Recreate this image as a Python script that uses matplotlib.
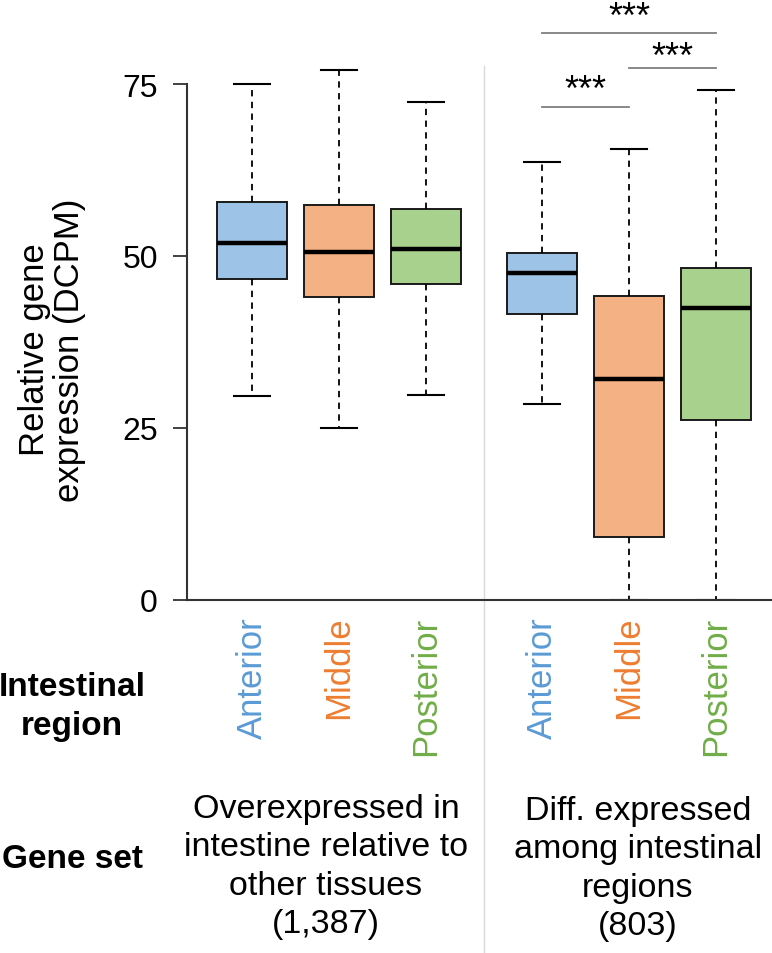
import numpy as np
import matplotlib
matplotlib.use("Agg")
import matplotlib.pyplot as plt
import matplotlib.transforms as mtransforms

plt.rcParams['font.family'] = ['Liberation Sans', 'DejaVu Sans']

# DATA
regions = ["Anterior", "Middle", "Posterior", "Anterior", "Middle", "Posterior"]
positions = [1, 2, 3, 4.333, 5.333, 6.333]
whis_lo = [29.7, 25.0, 29.8, 28.5, 0.0, 0.0]
q1 = [46.7, 44.0, 45.9, 41.6, 9.1, 26.2]
medians = [51.9, 50.6, 51.0, 47.6, 32.1, 42.4]
q3 = [57.9, 57.4, 56.8, 50.4, 44.2, 48.2]
whis_hi = [75.0, 77.0, 72.4, 63.6, 65.5, 74.1]

# significance brackets (from box index, to box index, line height, star baseline)
brk_from = [3, 4, 3]
brk_to = [4, 5, 5]
brk_y = [71.7, 77.3, 82.4]
brk_text_y = [72.7, 77.5, 83.3]

gene_sets = ["Overexpressed in\nintestine relative to\nother tissues\n(1,387)",
             "Diff. expressed\namong intestinal\nregions\n(803)"]

fill_colors = ["#9DC3E6", "#F4B183", "#A9D18E"] * 2
text_colors = ["#5B9BD5", "#ED7D31", "#70AD47"] * 2

# FIGURE
W, H = 772, 954
fig = plt.figure(figsize=(W / 100, H / 100), dpi=100)
px_per_unit = 6.88
ax = fig.add_axes([187 / W, (H - 601) / H, 1 - 187 / W, 601 / H])
ax.set_ylim(0, 601 / px_per_unit)
ax.set_xlim(1 + (187 - 252) / 87, 1 + (772 - 252) / 87)

stats = []
for i in range(len(regions)):
    stats.append(dict(med=medians[i], q1=q1[i], q3=q3[i],
                      whislo=whis_lo[i], whishi=whis_hi[i], fliers=[]))

bp = ax.bxp(stats, positions=positions, widths=0.805, capwidths=0.41,
            patch_artist=True, showfliers=False,
            boxprops=dict(edgecolor="#1a1a1a", linewidth=1.4),
            medianprops=dict(color="black", linewidth=3.2),
            whiskerprops=dict(color="black", linewidth=1.3, linestyle=(0, (3.5, 3))),
            capprops=dict(color="black", linewidth=1.5))
for patch, c in zip(bp['boxes'], fill_colors):
    patch.set_facecolor(c)

# axes styling
for s in ["top", "right"]:
    ax.spines[s].set_visible(False)
ax.spines["left"].set_bounds(0, 75)
ax.spines["left"].set_linewidth(1.5)
ax.spines["left"].set_color("#333333")
ax.spines["bottom"].set_linewidth(1.5)
ax.spines["bottom"].set_color("#333333")
ax.set_yticks([0, 25, 50, 75])
ax.tick_params(axis="y", labelsize=23, length=10, width=1.3, pad=11, color="#333333")
ax.set_xticks([])

# category labels under the boxes
for x, name, c in zip(positions, regions, text_colors):
    ax.text(x, -2.3, name, rotation=90, ha="center", va="top",
            fontsize=25, color=c, clip_on=False)

# significance brackets
for a, b, y, ty in zip(brk_from, brk_to, brk_y, brk_text_y):
    ax.plot([positions[a], positions[b]], [y, y], color="#7f7f7f", lw=1.3, clip_on=False)
    ax.text((positions[a] + positions[b]) / 2, ty, "***", ha="center", va="baseline",
            fontsize=26, clip_on=False)

# separator between the two gene sets
sep_x = (positions[2] + positions[3]) / 2
trans = mtransforms.blended_transform_factory(ax.transData, fig.transFigure)
ax.plot([sep_x, sep_x], [0, 1 - 67 / H], color="#d9d9d9", lw=1.0,
        transform=trans, clip_on=False)

# y label
fig.text(52 / W, 1 - 350 / H, "Relative gene\nexpression (DCPM)", rotation=90,
         ha="center", va="center", multialignment="center", fontsize=25,
         linespacing=1.1)

# row titles
fig.text(72 / W, 1 - 707 / H, "Intestinal\nregion", ha="center", va="center",
         fontsize=24, fontweight="bold", multialignment="center", linespacing=1.35)
fig.text(72 / W, 1 - 860 / H, "Gene set", ha="center", va="center",
         fontsize=24, fontweight="bold")

# gene set descriptions
fig.text(326 / W, 1 - 867 / H, gene_sets[0], ha="center", va="center",
         fontsize=24.5, multialignment="center", linespacing=1.3)
fig.text(638 / W, 1 - 869 / H, gene_sets[1], ha="center", va="center",
         fontsize=24.5, multialignment="center", linespacing=1.3)

fig.savefig("out.png", dpi=100)
